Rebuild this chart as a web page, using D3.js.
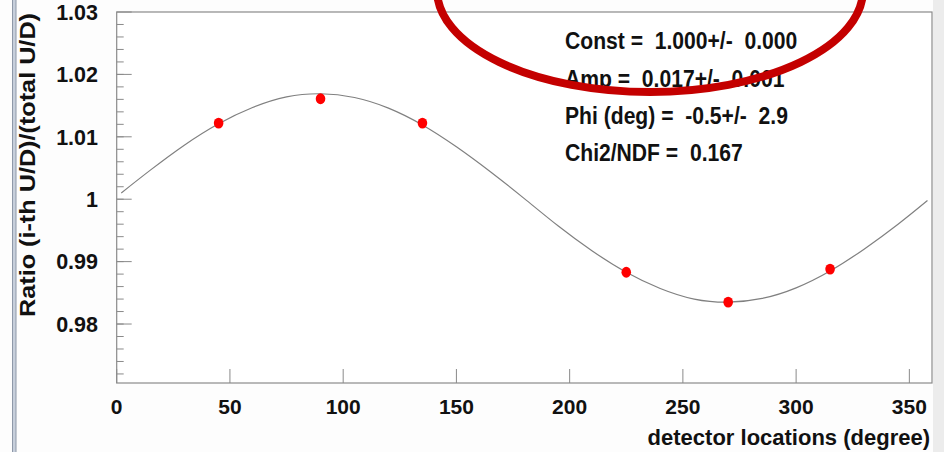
<!DOCTYPE html>
<html>
<head>
<meta charset="utf-8">
<title>Detector ratio fit</title>
<script src="https://d3js.org/d3.v7.min.js"></script>
<style>
  html, body { margin: 0; padding: 0; background: #fdfdfd; }
  svg { display: block; }
  text { font-family: "Liberation Sans", Arial, Helvetica, sans-serif; fill: #111; white-space: pre; }
</style>
</head>
<body>
<div id="container"></div>
<script>
//---------------------------- DATA -----------------------------//
// measured points: detector location (deg) and ratio
const locations = [45, 90, 135, 225, 270, 315];
const ratios = [1.0122, 1.0161, 1.0122, 0.9883, 0.9835, 0.9888];

// fit curve
const fitX = [2, 15, 30, 45, 60, 75, 90, 105, 120, 135, 150, 165, 180,
              195, 210, 225, 240, 255, 270, 285, 300, 315, 330, 345, 358];
const fitY = [1.0010, 1.0047, 1.0087, 1.0121, 1.0147, 1.0164, 1.0169, 1.0163,
              1.0146, 1.0119, 1.0084, 1.0044, 1.0001, 0.9957, 0.9917, 0.9883,
              0.9857, 0.9840, 0.9835, 0.9841, 0.9858, 0.9885, 0.9920, 0.9960, 0.9998];

const xTicks = [0, 50, 100, 150, 200, 250, 300, 350];
const yTicks = [0.98, 0.99, 1.00, 1.01, 1.02, 1.03];
const yTickLabels = ["0.98", "0.99", "1", "1.01", "1.02", "1.03"];

const statLines = [
  "Const =  1.000+/-  0.000",
  "Amp =  0.017+/-  0.001",
  "Phi (deg) =  -0.5+/-  2.9",
  "Chi2/NDF =  0.167"
];

//---------------------------- SVG ------------------------------//
const width = 944;
const height = 452;
const frame = { left: 116.7, right: 932, top: 12, bottom: 383 };

const svg = d3.select("#container").append("svg")
    .attr("width", width)
    .attr("height", height);

// window decorations at left/right edges
svg.append("rect")
    .attr("x", 12.5).attr("y", -1).attr("width", 3.5).attr("height", height + 2)
    .attr("fill", "#c7cfdb").attr("stroke", "#8e98a8").attr("stroke-width", 1);
svg.append("rect")
    .attr("x", 933).attr("y", 0).attr("width", 11).attr("height", height)
    .attr("fill", "#ececec");

//--------------------------- SCALES ----------------------------//
const x = d3.scaleLinear().domain([0, 360]).range([frame.left, frame.right]);
const y = d3.scaleLinear().domain([0.97055, 1.03]).range([frame.bottom, frame.top]);

// plot area
svg.append("rect")
    .attr("x", frame.left).attr("y", frame.top)
    .attr("width", frame.right - frame.left).attr("height", frame.bottom - frame.top)
    .attr("fill", "#ffffff")
    .attr("stroke", "#8a8a8a").attr("stroke-width", 1.2);

//---------------------------- AXES -----------------------------//
// y ticks point inward (right), minor every 0.002
const yMinor = d3.range(0.972, 1.0295, 0.002);
svg.append("g").selectAll("line")
    .data(yMinor)
    .join("line")
    .attr("x1", frame.left).attr("x2", frame.left + 7)
    .attr("y1", d => y(d)).attr("y2", d => y(d))
    .attr("stroke", "#8a8a8a").attr("stroke-width", 1);

svg.append("g").selectAll("line")
    .data(yTicks)
    .join("line")
    .attr("x1", frame.left).attr("x2", frame.left + 15)
    .attr("y1", d => y(d)).attr("y2", d => y(d))
    .attr("stroke", "#8a8a8a").attr("stroke-width", 1);

svg.append("g").selectAll("text")
    .data(yTicks)
    .join("text")
    .attr("x", 98)
    .attr("y", d => y(d))
    .attr("dy", "0.36em")
    .attr("text-anchor", "end")
    .style("font-size", "21.5px")
    .style("font-weight", "bold")
    .text((d, i) => yTickLabels[i]);

// x ticks point inward (up)
svg.append("g").selectAll("line")
    .data(xTicks)
    .join("line")
    .attr("x1", d => x(d)).attr("x2", d => x(d))
    .attr("y1", frame.bottom).attr("y2", frame.bottom - 14)
    .attr("stroke", "#8a8a8a").attr("stroke-width", 1);

svg.append("g").selectAll("text")
    .data(xTicks)
    .join("text")
    .attr("x", d => x(d))
    .attr("y", 413.5)
    .attr("text-anchor", "middle")
    .style("font-size", "21px")
    .style("font-weight", "bold")
    .text(d => d);

// axis titles
svg.append("text")
    .attr("x", 930).attr("y", 445)
    .attr("text-anchor", "end")
    .style("font-size", "22px")
    .style("font-weight", "bold")
    .text("detector locations (degree)");

svg.append("text")
    .attr("transform", "translate(34.5,165) rotate(-90)")
    .attr("text-anchor", "middle")
    .attr("textLength", 304)
    .attr("lengthAdjust", "spacingAndGlyphs")
    .style("font-size", "22.5px")
    .style("font-weight", "bold")
    .text("Ratio (i-th U/D)/(total U/D)");

//--------------------------- FIT LINE --------------------------//
const fitData = fitX.map((d, i) => ({ deg: d, val: fitY[i] }));
const line = d3.line()
    .x(d => x(d.deg))
    .y(d => y(d.val))
    .curve(d3.curveNatural);

svg.append("path")
    .datum(fitData)
    .attr("d", line)
    .attr("fill", "none")
    .attr("stroke", "#808080")
    .attr("stroke-width", 1.2);

//---------------------------- POINTS ---------------------------//
svg.append("g").selectAll("ellipse")
    .data(locations)
    .join("ellipse")
    .attr("cx", d => x(d))
    .attr("cy", (d, i) => y(ratios[i]))
    .attr("rx", 4.8).attr("ry", 5.4)
    .attr("fill", "#ff0000");

//---------------------------- STATS ----------------------------//
// narrow font in the original: squeeze the text horizontally
svg.append("g")
    .attr("transform", "translate(565,0) scale(0.88,1)")
    .selectAll("text")
    .data(statLines)
    .join("text")
    .attr("x", 0)
    .attr("y", (d, i) => 49.5 + i * 37.2)
    .style("font-size", "24px")
    .style("font-weight", "bold")
    .text(d => d);

// red hand-drawn circle around the fit box
svg.append("ellipse")
    .attr("cx", 650).attr("cy", -10)
    .attr("rx", 213).attr("ry", 102)
    .attr("fill", "none")
    .attr("stroke", "#c40000")
    .attr("stroke-width", 8);
</script>
</body>
</html>
